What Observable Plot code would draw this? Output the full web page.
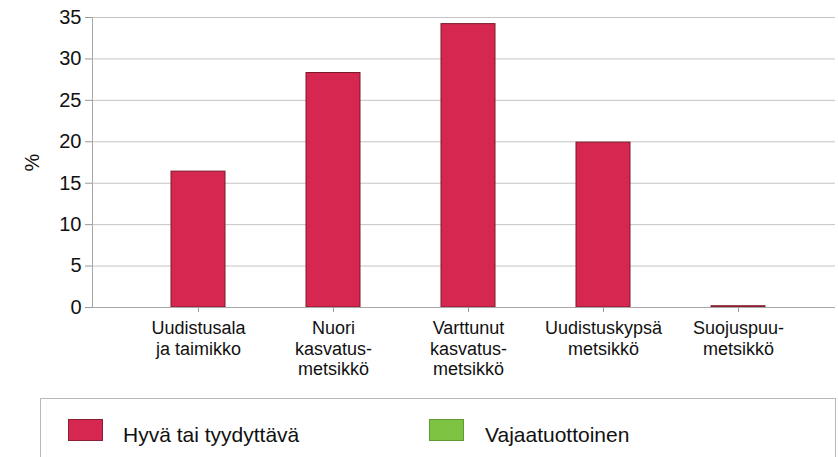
<!DOCTYPE html>
<html>
<head>
<meta charset="utf-8">
<script src="https://cdn.jsdelivr.net/npm/d3@7"></script>
<script src="https://cdn.jsdelivr.net/npm/@observablehq/plot@0.6"></script>
<style>
  body { margin: 0; background: white; font-family: "Liberation Sans", Arial, sans-serif; }
  #wrap { position: relative; width: 838px; height: 457px; overflow: hidden; }
  #legend { position: absolute; left: 40px; top: 398px; width: 796px; height: 80px; border: 1px solid #b8b8b8; box-sizing: border-box; }
  .sw { position: absolute; width: 35px; height: 22px; box-sizing: border-box; }
  .lt { position: absolute; font-size: 21px; line-height: 24px; color: #111; white-space: nowrap; }
</style>
</head>
<body>
<div id="wrap">
  <div id="chart"></div>
  <div id="legend"></div>
</div>
<script>
const categories = ["Uudistusala\nja taimikko", "Nuori\nkasvatus-\nmetsikkö", "Varttunut\nkasvatus-\nmetsikkö", "Uudistuskypsä\nmetsikkö", "Suojuspuu-\nmetsikkö"];
const hyva = [16.4, 28.3, 34.2, 19.9, 0.15];
const vaja = [0, 0, 0, 0, 0];
const seriesNames = ["Hyvä tai tyydyttävä", "Vajaatuottoinen"];
const seriesColors = ["#d5274f", "#7ec242"];
const yTicks = [0, 5, 10, 15, 20, 25, 30, 35];

const data = categories.map((c, i) => ({cat: c, hyva: hyva[i], vaja: vaja[i]}));

const chart = Plot.plot({
  width: 838,
  height: 390,
  marginLeft: 92,
  marginRight: 3,
  marginTop: 17,
  marginBottom: 83,
  style: {fontFamily: "'Liberation Sans', Arial, sans-serif", fontSize: "18px", color: "#111", background: "white"},
  x: {type: "band", domain: categories, range: [130.5, 805.5], paddingInner: 0.6, paddingOuter: 0.3, label: null},
  y: {domain: [0, 35], ticks: yTicks, label: "%"},
  marks: [
    Plot.ruleY(yTicks.filter(d => d > 0), {stroke: "#c4c4c4"}),
    Plot.barY(data, {x: "cat", y: "hyva", fill: seriesColors[0], stroke: "#7a1a2a", strokeWidth: 1}),
    Plot.barY(data, {x: "cat", y: "vaja", fill: seriesColors[1]}),
    Plot.ruleY([0], {stroke: "#a8a8a8"}),
    Plot.frame({anchor: "left", stroke: "#a8a8a8"}),
    Plot.axisY({ticks: yTicks, tickSize: 7, tickPadding: 4, fontSize: 20, stroke: "#999", label: "%", labelAnchor: "center", labelArrow: "none", labelOffset: 68}),
    Plot.axisX({tickSize: 5, tickPadding: 7, fontSize: 18, lineHeight: 1.14, stroke: "#999", label: null})
  ]
});
document.getElementById("chart").appendChild(chart);

const legend = document.getElementById("legend");
const items = [
  {name: seriesNames[0], color: seriesColors[0], border: "#8a1f35", sx: 27, tx: 82},
  {name: seriesNames[1], color: seriesColors[1], border: "#5f9a32", sx: 388, tx: 444}
];
items.forEach(it => {
  const sw = document.createElement("div");
  sw.className = "sw";
  sw.style.left = it.sx + "px";
  sw.style.top = "20px";
  sw.style.background = it.color;
  sw.style.border = "1px solid " + it.border;
  legend.appendChild(sw);
  const t = document.createElement("div");
  t.className = "lt";
  t.style.left = it.tx + "px";
  t.style.top = "24px";
  t.textContent = it.name;
  legend.appendChild(t);
});
</script>
</body>
</html>
